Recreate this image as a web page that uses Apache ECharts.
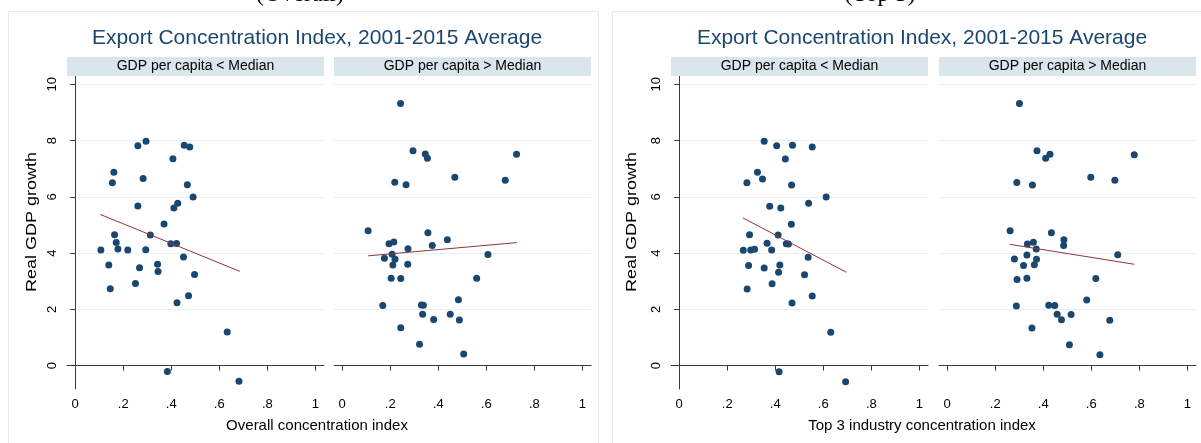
<!DOCTYPE html>
<html>
<head>
<meta charset="utf-8">
<title>Export Concentration Index, 2001-2015 Average</title>
<script src="https://cdn.jsdelivr.net/npm/echarts@6.0.0/dist/echarts.min.js"></script>
<style>
  html, body { margin: 0; padding: 0; background: #fff; }
  #main { width: 1201px; height: 443px; }
</style>
</head>
<body>
<div id="main"></div>
<script>
// ---- values ----
var xTicks = [0, 0.2, 0.4, 0.6, 0.8, 1];
var yTicks = [0, 2, 4, 6, 8, 10];
var panelTitle = 'Export Concentration Index, 2001-2015 Average';
var stripNames = ['GDP per capita < Median', 'GDP per capita > Median'];
var xTitles = ['Overall concentration index', 'Top 3 industry concentration index'];
var yTitle = 'Real GDP growth';
var topNotes = ['(Overall)', '(Top 3)'];

// overall index, GDP per capita below median  [index, growth]
var overallLow = [
  [0.261,7.81],[0.295,7.97],[0.454,7.83],[0.477,7.77],[0.407,7.35],
  [0.161,6.87],[0.155,6.50],[0.283,6.65],[0.467,6.43],[0.491,5.99],
  [0.261,5.67],[0.427,5.77],[0.411,5.60],[0.370,5.03],[0.164,4.65],
  [0.313,4.64],[0.171,4.37],[0.398,4.33],[0.422,4.34],[0.178,4.14],
  [0.107,4.11],[0.219,4.11],[0.294,4.12],[0.451,3.86],[0.140,3.57],
  [0.343,3.60],[0.268,3.48],[0.345,3.34],[0.497,3.24],[0.146,2.73],
  [0.251,2.92],[0.472,2.48],[0.424,2.23],[0.633,1.19],[0.384,-0.21],
  [0.682,-0.56]
];
// overall index, above median
var overallHigh = [
  [0.243,9.32],[0.295,7.64],[0.346,7.52],[0.355,7.37],[0.726,7.51],
  [0.219,6.52],[0.266,6.43],[0.469,6.69],[0.679,6.59],[0.108,4.79],
  [0.357,4.72],[0.438,4.47],[0.195,4.33],[0.215,4.39],[0.274,4.15],
  [0.375,4.27],[0.607,3.95],[0.208,3.96],[0.176,3.81],[0.220,3.78],
  [0.211,3.57],[0.273,3.60],[0.204,3.10],[0.244,3.09],[0.560,3.10],
  [0.169,2.13],[0.330,2.15],[0.338,2.14],[0.484,2.34],[0.335,1.82],
  [0.450,1.82],[0.381,1.64],[0.488,1.62],[0.244,1.34],[0.322,0.76],
  [0.506,0.41]
];
// top 3 industry index, below median
var top3Low = [
  [0.354,7.97],[0.406,7.81],[0.472,7.83],[0.554,7.77],[0.442,7.34],
  [0.326,6.87],[0.282,6.50],[0.347,6.63],[0.468,6.42],[0.612,5.99],
  [0.377,5.66],[0.423,5.60],[0.539,5.77],[0.467,5.02],[0.293,4.65],
  [0.412,4.64],[0.366,4.35],[0.446,4.33],[0.455,4.32],[0.267,4.10],
  [0.298,4.11],[0.314,4.13],[0.385,4.11],[0.537,3.85],[0.289,3.56],
  [0.419,3.57],[0.354,3.47],[0.414,3.32],[0.522,3.23],[0.283,2.72],
  [0.387,2.91],[0.554,2.47],[0.470,2.22],[0.631,1.18],[0.416,-0.22],
  [0.693,-0.58]
];
// top 3 industry index, above median
var top3High = [
  [0.301,9.32],[0.374,7.64],[0.428,7.51],[0.410,7.37],[0.779,7.49],
  [0.290,6.51],[0.355,6.42],[0.598,6.69],[0.698,6.59],[0.262,4.79],
  [0.434,4.72],[0.486,4.47],[0.485,4.27],[0.334,4.32],[0.359,4.38],
  [0.371,4.14],[0.710,3.94],[0.332,3.93],[0.280,3.79],[0.372,3.78],
  [0.318,3.56],[0.363,3.58],[0.291,3.06],[0.332,3.10],[0.619,3.09],
  [0.288,2.12],[0.423,2.14],[0.448,2.13],[0.581,2.33],[0.458,1.82],
  [0.476,1.63],[0.516,1.81],[0.677,1.61],[0.353,1.33],[0.509,0.74],
  [0.636,0.38]
];
// linear fit lines (end points)
var fitOverallLow = [[0.105,5.37],[0.685,3.35]];
var fitOverallHigh = [[0.108,3.90],[0.727,4.37]];
var fitTop3Low = [[0.265,5.25],[0.695,3.32]];
var fitTop3High = [[0.260,4.31],[0.779,3.60]];

// ---- layout ----
var sans = "'Liberation Sans', Arial, sans-serif";
var serif = "'Liberation Serif', 'Times New Roman', serif";
var navy = '#1a476f';
var fitColor = '#90353b';
var gridColor = '#e8f0f2';
var stripColor = '#d9e6eb';
var axisColor = '#3a3a3a';

var facetLeft = [67, 334, 671, 939];
var facetW = 257, facetTop = 75, facetH = 314;
var scatters = [overallLow, overallHigh, top3Low, top3High];
var fits = [fitOverallLow, fitOverallHigh, fitTop3Low, fitTop3High];
var panelCenter = [317, 922];

function tickFmt(v) {
  if (v === 0) return '0';
  if (v === 1) return '1';
  return String(+v.toFixed(1)).replace(/^0/, '');
}

var grid = [], xAxis = [], yAxis = [], series = [], graphic = [];

facetLeft.forEach(function (left, i) {
  var showY = (i % 2 === 0);
  grid.push({ left: left, top: facetTop, width: facetW, height: facetH, outerBoundsMode: 'none' });
  xAxis.push({
    gridIndex: i, type: 'value', min: -0.034, max: 1.036,
    axisLine: { show: true, lineStyle: { color: axisColor, width: 1 } },
    axisTick: { show: true, customValues: xTicks, length: 5, lineStyle: { color: axisColor } },
    axisLabel: { customValues: xTicks, formatter: tickFmt, fontSize: 13, color: '#000', fontFamily: sans, margin: 9 },
    splitLine: { show: false }
  });
  yAxis.push({
    gridIndex: i, type: 'value', min: -0.835, max: 10.33,
    axisLine: { show: showY, lineStyle: { color: axisColor, width: 1 } },
    axisTick: { show: showY, customValues: yTicks, length: 5, lineStyle: { color: axisColor } },
    axisLabel: { show: showY, customValues: yTicks, rotate: 90, fontSize: 13, color: '#000', fontFamily: sans, margin: 8 },
    splitLine: { show: true, lineStyle: { color: gridColor, width: 1 } }
  });
  series.push({
    type: 'scatter', xAxisIndex: i, yAxisIndex: i,
    data: scatters[i], symbolSize: 7,
    itemStyle: { color: navy, opacity: 1 }
  });
  series.push({
    type: 'line', xAxisIndex: i, yAxisIndex: i,
    data: fits[i], showSymbol: false, z: 3,
    lineStyle: { color: fitColor, width: 1 }
  });
  // facet strip
  graphic.push({
    type: 'rect', shape: { x: left, y: 57, width: facetW, height: 19 },
    style: { fill: stripColor }, z: 1
  });
  graphic.push({
    type: 'text', x: left + facetW / 2, y: 66.5, z: 2,
    style: { text: stripNames[i % 2], fontSize: 14, fontFamily: sans, fill: '#000', align: 'center', verticalAlign: 'middle' }
  });
});

// graph frames, titles, axis titles
[[8.5, 590], [612.5, 600]].forEach(function (f) {
  graphic.push({
    type: 'rect', shape: { x: f[0], y: 11.5, width: f[1], height: 440 },
    style: { fill: 'none', stroke: '#e4ecef', lineWidth: 1 }, z: 0
  });
});
panelCenter.forEach(function (cx, p) {
  graphic.push({
    type: 'text', x: cx, y: 38,
    style: { text: panelTitle, fontSize: 21, fontFamily: sans, fill: navy, align: 'center', verticalAlign: 'middle' }
  });
  graphic.push({
    type: 'text', x: cx, y: 426,
    style: { text: xTitles[p], fontSize: 15, fontFamily: sans, fill: '#000', align: 'center', verticalAlign: 'middle' }
  });
  graphic.push({
    type: 'text', x: p === 0 ? 32 : 632, y: 222, rotation: Math.PI / 2, scaleX: 1.2,
    style: { text: yTitle, fontSize: 15, fontFamily: sans, fill: '#000', align: 'center', verticalAlign: 'middle' }
  });
});
// captions of the page above, cut off at the top edge
[[300, topNotes[0]], [880, topNotes[1]]].forEach(function (n) {
  graphic.push({
    type: 'text', x: n[0], y: 7,
    style: { text: n[1], fontSize: 24, fontFamily: serif, fill: '#000', align: 'center', verticalAlign: 'bottom' }
  });
});

var myChart = echarts.init(document.getElementById('main'));
myChart.setOption({
  animation: false,
  backgroundColor: '#fff',
  grid: grid,
  xAxis: xAxis,
  yAxis: yAxis,
  series: series,
  graphic: graphic
});
</script>
</body>
</html>
